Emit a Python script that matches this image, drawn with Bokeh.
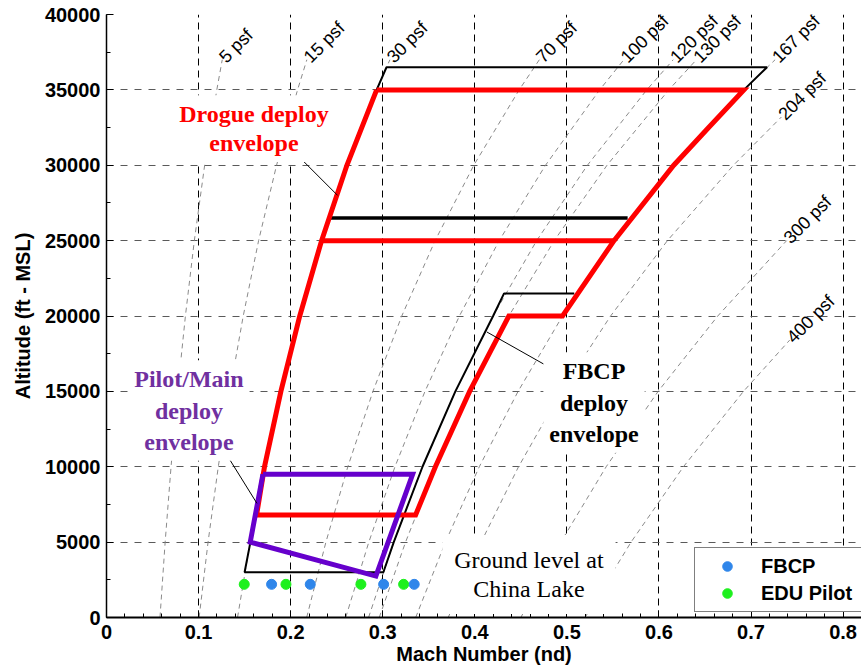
from math import pi
from bokeh.plotting import figure
from bokeh.models import (Range1d, SingleIntervalTicker, NumeralTickFormatter,
                          Legend, LegendItem, Label)
from bokeh.core.properties import value
from bokeh.embed import file_html
from bokeh.resources import INLINE

# ---------------- data ----------------
# constant dynamic-pressure lines: Mach number at the listed altitudes
alt_full = [0, 5000, 10000, 15000, 20000, 25000, 30000, 35000, 37000]
m_5psf = [0.0581, 0.0637, 0.0701, 0.0773, 0.0857, 0.0954, 0.1066, 0.1198, 0.1257]
m_15psf = [0.1006, 0.1103, 0.1214, 0.1340, 0.1485, 0.1652, 0.1847, 0.2075, 0.2176]
m_30psf = [0.1423, 0.1560, 0.1716, 0.1894, 0.2099, 0.2336, 0.2611, 0.2934, 0.3078]
m_70psf = [0.2174, 0.2383, 0.2621, 0.2894, 0.3207, 0.3569, 0.3989, 0.4482, 0.4701]
m_100psf = [0.2598, 0.2849, 0.3133, 0.3459, 0.3833, 0.4265, 0.4768, 0.5356, 0.5619]
m_120psf = [0.2846, 0.3120, 0.3432, 0.3789, 0.4199, 0.4672, 0.5223, 0.5868, 0.6155]
m_130psf = [0.2962, 0.3248, 0.3572, 0.3944, 0.4370, 0.4863, 0.5436, 0.6107, 0.6407]
m_167psf = [0.3358, 0.3681, 0.4049, 0.4470, 0.4953, 0.5512, 0.6161, 0.6922, 0.7262]
alt_204 = [0, 5000, 10000, 15000, 20000, 25000, 30000, 33200]
m_204psf = [0.3711, 0.4069, 0.4475, 0.4940, 0.5475, 0.6092, 0.6809, 0.7330]
alt_300 = [0, 5000, 10000, 15000, 20000, 25000]
m_300psf = [0.4500, 0.4934, 0.5427, 0.5991, 0.6639, 0.7387]
alt_400 = [0, 5000, 10000, 15000, 18400]
m_400psf = [0.5197, 0.5697, 0.6266, 0.6918, 0.7420]
q_names = ["5 psf", "15 psf", "30 psf", "70 psf", "100 psf", "120 psf",
           "130 psf", "167 psf", "204 psf", "300 psf", "400 psf"]

# drogue deploy envelope (red)
drogue_m = [0.2934, 0.6922, 0.6540, 0.6161, 0.5512, 0.4953, 0.4370, 0.3944, 0.3572,
            0.3357, 0.1630, 0.1716, 0.1894, 0.2099, 0.2336, 0.2611, 0.2934]
drogue_alt = [35000, 35000, 32500, 30000, 25000, 20000, 20000, 15000, 10000,
              6800, 6800, 10000, 15000, 20000, 25000, 30000, 35000]
drogue_mid_m = [0.2336, 0.5512]
drogue_mid_alt = [25000, 25000]

# FBCP deploy envelope (black)
fbcp_low_m = [0.1563, 0.1500, 0.3007, 0.3120, 0.3432, 0.3789, 0.4199, 0.4318, 0.5080]
fbcp_low_alt = [5000, 3000, 3000, 5000, 10000, 15000, 20000, 21500, 21500]
fbcp_mid_m = [0.2437, 0.5660]
fbcp_mid_alt = [26500, 26500]
fbcp_top_m = [0.2934, 0.3041, 0.7174, 0.6922]
fbcp_top_alt = [35000, 36500, 36500, 35000]

# pilot / main deploy envelope (purple)
pilot_m = [0.1699, 0.3325, 0.2926, 0.1561, 0.1699]
pilot_alt = [9500, 9500, 2750, 5000, 9500]

# test points
fbcp_pts_m = [0.1793, 0.2213, 0.3010, 0.3342]
fbcp_pts_alt = [2200, 2200, 2200, 2200]
edu_pts_m = [0.1496, 0.1949, 0.2763, 0.3227]
edu_pts_alt = [2200, 2200, 2200, 2200]

# leader lines  (x0, y0) -> (x1, y1)
lead_x0 = [0.2076, 0.1297, 0.4131]
lead_y0 = [30650, 10880, 18940]
lead_x1 = [0.2510, 0.1634, 0.4917]
lead_y1 = [28000, 7570, 16230]

# ---------------- figure ----------------
p = figure(width=861, height=670, output_backend="svg", toolbar_location=None,
           x_range=Range1d(0, 0.82), y_range=Range1d(0, 40000),
           min_border_left=106, min_border_right=0, min_border_top=14,
           min_border_bottom=53)
p.outline_line_color = None
p.background_fill_color = "white"

p.xaxis.ticker = SingleIntervalTicker(interval=0.1, num_minor_ticks=5)
p.yaxis.ticker = SingleIntervalTicker(interval=5000, num_minor_ticks=2)
p.xaxis.formatter = NumeralTickFormatter(format="0.[0]")
p.xgrid.ticker = p.xaxis.ticker
p.ygrid.ticker = p.yaxis.ticker

for ax in (p.xaxis, p.yaxis):
    ax.major_label_text_font = "Liberation Sans"
    ax.major_label_text_font_style = "bold"
    ax.major_label_text_font_size = "20px"
    ax.major_label_text_color = "black"
    ax.axis_label_text_font = "Liberation Sans"
    ax.axis_label_text_font_style = "bold"
    ax.axis_label_text_font_size = "20px"
    ax.axis_label_text_color = "black"
    ax.major_tick_in = 7
    ax.major_tick_out = 0
    ax.minor_tick_in = 4
    ax.minor_tick_out = 0
    ax.axis_line_color = "black"
    ax.major_tick_line_color = "black"
    ax.minor_tick_line_color = "black"

p.xaxis.axis_label = "Mach Number (nd)"
p.yaxis.axis_label = "Altitude (ft - MSL)"
p.xaxis.axis_line_width = 2
p.yaxis.axis_line_width = 1.5
p.xaxis.major_label_standoff = 7
p.yaxis.major_label_standoff = 6
p.xaxis.axis_label_standoff = 1
p.yaxis.axis_label_standoff = 8

p.xgrid.grid_line_color = "black"
p.xgrid.grid_line_dash = "7 5"
p.xgrid.grid_line_width = 1
p.ygrid.grid_line_color = "#5a5a5a"
p.ygrid.grid_line_dash = "7 7"
p.ygrid.grid_line_width = 1

# constant-q lines
q_sets = [(m_5psf, alt_full), (m_15psf, alt_full), (m_30psf, alt_full),
          (m_70psf, alt_full), (m_100psf, alt_full), (m_120psf, alt_full),
          (m_130psf, alt_full), (m_167psf, alt_full), (m_204psf, alt_204),
          (m_300psf, alt_300), (m_400psf, alt_400)]
p.multi_line(xs=[s[0] for s in q_sets], ys=[s[1] for s in q_sets],
             line_color="#8a8a8a", line_width=1, line_dash="5 4")
p.text(x=[s[0][-1] for s in q_sets], y=[s[1][-1] for s in q_sets], text=q_names,
       angle=pi / 4, text_font=value("Liberation Sans"), text_font_size="18px",
       text_align="left", text_baseline="middle", text_color="black",
       x_offset=0, y_offset=0)

# envelopes
p.line(fbcp_low_m, fbcp_low_alt, line_color="black", line_width=2)
p.line(fbcp_mid_m, fbcp_mid_alt, line_color="black", line_width=3.5)
p.line(fbcp_top_m, fbcp_top_alt, line_color="black", line_width=2)
p.line(drogue_m, drogue_alt, line_color="#ff0000", line_width=5, line_join="miter")
p.line(drogue_mid_m, drogue_mid_alt, line_color="#ff0000", line_width=5)
p.line(pilot_m, pilot_alt, line_color="#6600cc", line_width=5, line_join="miter")

p.segment(x0=lead_x0, y0=lead_y0, x1=lead_x1, y1=lead_y1,
          line_color="black", line_width=1)

g_edu = p.scatter(edu_pts_m, edu_pts_alt, size=10, marker="circle",
                  fill_color="#1ef01e", line_color="#1ef01e")
g_fbcp = p.scatter(fbcp_pts_m, fbcp_pts_alt, size=10, marker="circle",
                   fill_color="#2f86ea", line_color="#2f86ea")

# annotations
def note(x, y, txt, color, style, lh, pad):
    lab = Label(x=x, y=y, text=txt, text_align="center", text_baseline="middle",
                text_font="Liberation Serif", text_font_style=style,
                text_font_size="24px", text_color=color, text_line_height=lh,
                background_fill_color="white", background_fill_alpha=1.0,
                padding=pad)
    p.add_layout(lab)

note(0.1601, 32430, "Drogue deploy\nenvelope", "#ff0000", "bold", 1.1, 6)
note(0.0895, 13730, "Pilot/Main\ndeploy\nenvelope", "#7030a0", "bold", 1.2, 6)
note(0.5295, 14260, "FBCP\ndeploy\nenvelope", "black", "bold", 1.2, 6)
note(0.4588, 2850, "Ground level at\nChina Lake", "black", "normal", 1.12, 12)

legend = Legend(items=[LegendItem(label="FBCP", renderers=[g_fbcp]),
                       LegendItem(label="EDU Pilot", renderers=[g_edu])],
                location=(588, 5), margin=0, padding=6, spacing=3,
                glyph_width=52, glyph_height=24, label_height=24,
                label_standoff=8, label_width=110,
                label_text_font="Liberation Sans", label_text_font_style="bold",
                label_text_font_size="20px", label_text_color="black",
                border_line_color="black", border_line_width=1.5,
                background_fill_color="white", background_fill_alpha=1.0)
p.add_layout(legend)

open("out.html", "w").write(file_html(p, INLINE))
